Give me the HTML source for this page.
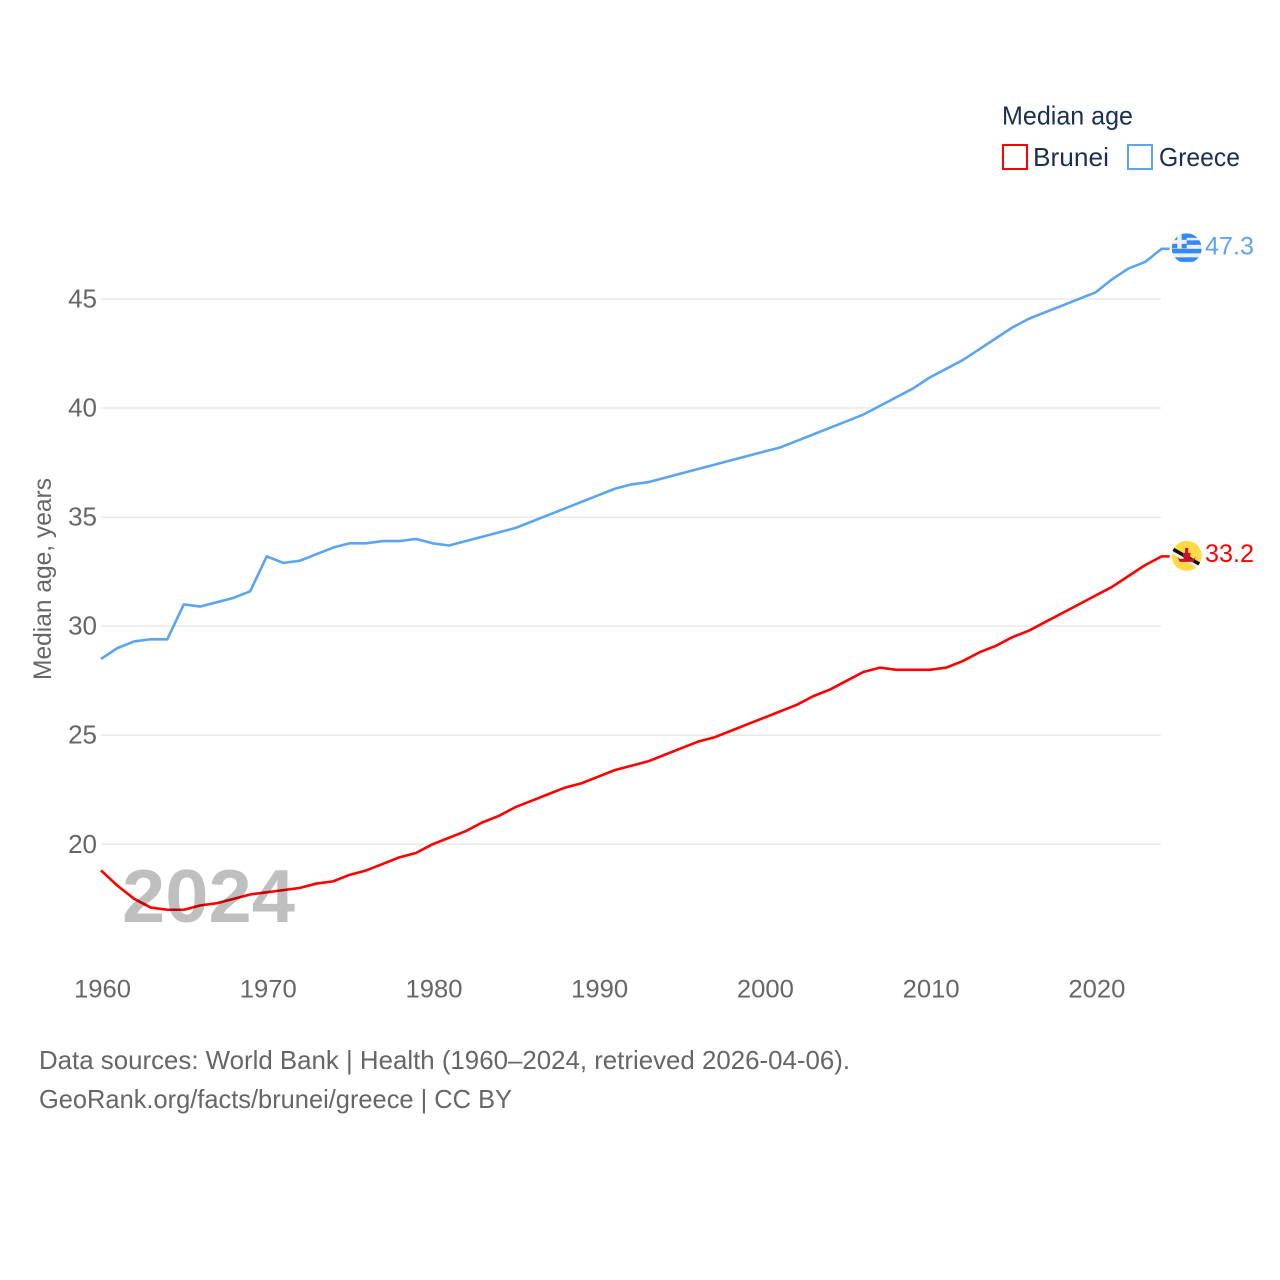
<!DOCTYPE html>
<html lang="en">
<head>
<meta charset="utf-8">
<title>Median age: Brunei and Greece</title>
<style>
html,body{margin:0;padding:0;background:#fff;width:1280px;height:1280px;overflow:hidden}
svg{display:block;font-family:"Liberation Sans",sans-serif}
</style>
</head>
<body>
<svg id="chart" xmlns="http://www.w3.org/2000/svg" width="1280" height="1280" viewBox="0 0 1280 1280">
  <defs>
    <clipPath id="clip-greece"><circle cx="0" cy="0" r="15"/></clipPath>
    <clipPath id="clip-brunei"><circle cx="0" cy="0" r="15"/></clipPath>
  </defs>
  <rect width="1280" height="1280" fill="#fff"/>
  <g id="grid"></g>
  <g id="yticks"></g>
  <g id="xticks"></g>
  <text transform="translate(51,680) rotate(-90)" font-size="25" fill="#666" textLength="202" lengthAdjust="spacingAndGlyphs">Median age, years</text>
  <path id="line-greece" fill="none" stroke="#5ba4ee" stroke-width="2.6" stroke-linejoin="round"/>
  <path id="line-brunei" fill="none" stroke="#ff0000" stroke-width="2.6" stroke-linejoin="round"/>
  <text id="year-watermark" x="122" y="922" font-size="75" font-weight="700" fill="#000" fill-opacity="0.25" textLength="173" lengthAdjust="spacingAndGlyphs">2024</text>

  <g id="flag-greece">
    <g clip-path="url(#clip-greece)">
      <rect x="-15" y="-15" width="30" height="30" fill="#eeeeee"/>
      <rect x="-15" y="-15" width="30" height="4.5" fill="#338af3"/>
      <rect x="-15" y="-8" width="30" height="4.5" fill="#338af3"/>
      <rect x="-15" y="0.5" width="30" height="4.5" fill="#338af3"/>
      <rect x="-15" y="9" width="30" height="4.5" fill="#338af3"/>
      <rect x="-15" y="-15" width="15" height="15" fill="#338af3"/>
      <rect x="-9.5" y="-15" width="4.5" height="15" fill="#eeeeee"/>
      <rect x="-15" y="-8.5" width="15" height="4" fill="#eeeeee"/>
    </g>
  </g>
  <g id="flag-brunei">
    <g clip-path="url(#clip-brunei)">
      <rect x="-15" y="-15" width="30" height="30" fill="#ffda44"/>
      <path d="M-16,-9 L16,9 L16,15 L-16,-3 Z" fill="#eeeeee"/>
      <path d="M-16,-10 L16,8 L16,12 L-16,-6 Z" fill="#111"/>
      <path d="M-1.5,-8 H1.5 V-3 H4 L3,3 H7 L9,1 L7,6 H-7 L-9,1 L-7,3 H-3 L-4,-3 H-1.5 Z" fill="#c8102e"/>
    </g>
  </g>
  <text id="value-greece" x="1205" font-size="25" fill="#5ba4ee" textLength="49" lengthAdjust="spacingAndGlyphs"></text>
  <text id="value-brunei" x="1205" font-size="25" fill="#ff0000" textLength="49" lengthAdjust="spacingAndGlyphs"></text>

  <g>
    <text x="1002" y="124.5" font-size="26" fill="#1b2f52" textLength="131" lengthAdjust="spacingAndGlyphs">Median age</text>
    <g>
      <rect x="1003" y="145" width="24" height="24" fill="#fff" stroke="#ff0000" stroke-width="2"/>
      <text x="1033" y="166" font-size="26" fill="#1b2f52" textLength="76" lengthAdjust="spacingAndGlyphs">Brunei</text>
    </g>
    <g>
      <rect x="1128" y="145" width="24" height="24" fill="#fff" stroke="#5ba4ee" stroke-width="2"/>
      <text x="1159" y="166" font-size="26" fill="#1b2f52" textLength="81" lengthAdjust="spacingAndGlyphs">Greece</text>
    </g>
  </g>

  <text x="39" y="1069" font-size="26" fill="#666" textLength="811" lengthAdjust="spacingAndGlyphs">Data sources: World Bank | Health (1960–2024, retrieved 2026-04-06).</text>
  <text x="39" y="1108" font-size="26" fill="#666" textLength="473" lengthAdjust="spacingAndGlyphs">GeoRank.org/facts/brunei/greece | CC BY</text>
</svg>
<script>
const startYear = 1960;
const xTickLabels = [1960, 1970, 1980, 1990, 2000, 2010, 2020];
const yTickLabels = [20, 25, 30, 35, 40, 45];
const greeceValues = [28.5,29.0,29.3,29.4,29.4,31.0,30.9,31.1,31.3,31.6,33.2,32.9,33.0,33.3,33.6,33.8,33.8,33.9,33.9,34.0,33.8,33.7,33.9,34.1,34.3,34.5,34.8,35.1,35.4,35.7,36.0,36.3,36.5,36.6,36.8,37.0,37.2,37.4,37.6,37.8,38.0,38.2,38.5,38.8,39.1,39.4,39.7,40.1,40.5,40.9,41.4,41.8,42.2,42.7,43.2,43.7,44.1,44.4,44.7,45.0,45.3,45.9,46.4,46.7,47.3];
const bruneiValues = [18.8,18.1,17.5,17.1,17.0,17.0,17.2,17.3,17.5,17.7,17.8,17.9,18.0,18.2,18.3,18.6,18.8,19.1,19.4,19.6,20.0,20.3,20.6,21.0,21.3,21.7,22.0,22.3,22.6,22.8,23.1,23.4,23.6,23.8,24.1,24.4,24.7,24.9,25.2,25.5,25.8,26.1,26.4,26.8,27.1,27.5,27.9,28.1,28.0,28.0,28.0,28.1,28.4,28.8,29.1,29.5,29.8,30.2,30.6,31.0,31.4,31.8,32.3,32.8,33.2];

const SVG_NS = 'http://www.w3.org/2000/svg';
function xScale(year) { return 101 + (year - 1960) * (1095.4 - 101) / 60; }
function yScale(value) { return 844.3 - (value - 20) * (844.3 - 299.0) / 25; }

const gridGroup = document.getElementById('grid');
const yTickGroup = document.getElementById('yticks');
const xTickGroup = document.getElementById('xticks');

yTickLabels.forEach(function (tick) {
  const line = document.createElementNS(SVG_NS, 'line');
  
  
  line.setAttribute('x1', 101);
  line.setAttribute('x2', 1161);
  line.setAttribute('y1', yScale(tick));
  line.setAttribute('y2', yScale(tick));
  line.setAttribute('stroke', '#e9e9e9');
  line.setAttribute('stroke-width', '1.5');
  gridGroup.appendChild(line);

  const label = document.createElementNS(SVG_NS, 'text');
  
  
  label.setAttribute('x', 97);
  label.setAttribute('y', yScale(tick) + 8.5);
  label.setAttribute('text-anchor', 'end');
  label.setAttribute('font-size', '26');
  label.setAttribute('fill', '#666');
  label.textContent = String(tick);
  yTickGroup.appendChild(label);
});

xTickLabels.forEach(function (tick) {
  const label = document.createElementNS(SVG_NS, 'text');
  
  
  label.setAttribute('x', xScale(tick) + 1.5);
  label.setAttribute('y', 997.5);
  label.setAttribute('text-anchor', 'middle');
  label.setAttribute('font-size', '25');
  label.setAttribute('fill', '#666');
  label.setAttribute('textLength', '57');
  label.setAttribute('lengthAdjust', 'spacingAndGlyphs');
  label.textContent = String(tick);
  xTickGroup.appendChild(label);
});

function drawSeries(values, lineId, flagId, valueId) {
  let d = '';
  values.forEach(function (value, i) {
    d += (i === 0 ? 'M' : 'L') + xScale(startYear + i).toFixed(2) + ',' + yScale(value).toFixed(2);
  });
  const last = values[values.length - 1];
  const lastY = yScale(last);
  d += 'L' + (xScale(startYear + values.length - 1) + 8).toFixed(2) + ',' + lastY.toFixed(2);
  document.getElementById(lineId).setAttribute('d', d);
  document.getElementById(flagId).setAttribute('transform', 'translate(1186.7,' + (lastY - 0.5).toFixed(2) + ')');
  const valueLabel = document.getElementById(valueId);
  valueLabel.setAttribute('y', (lastY + 5.5).toFixed(2));
  valueLabel.textContent = last.toFixed(1);
}

drawSeries(greeceValues, 'line-greece', 'flag-greece', 'value-greece');
drawSeries(bruneiValues, 'line-brunei', 'flag-brunei', 'value-brunei');
</script>
</body>
</html>
